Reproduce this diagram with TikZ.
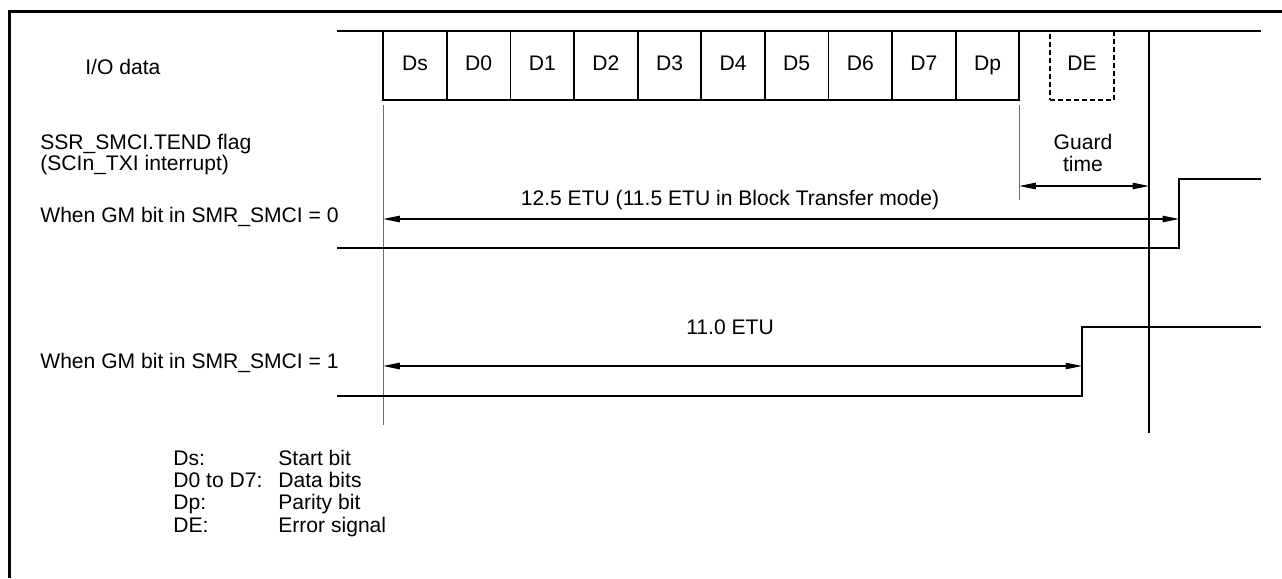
\documentclass[tikz,border=0pt]{standalone}
\usepackage{fontspec}
\setmainfont{Liberation Sans}
\usetikzlibrary{arrows.meta, positioning, calc}

\begin{document}
\begin{tikzpicture}[
  x=0.2mm, y=-0.2mm,
  font=\fontsize{12}{12}\selectfont,
  frame/.style={line width=2pt, black},
  sig/.style={line width=1.1pt, black},
  bitbox/.style={draw, line width=1.1pt, minimum width=1.272cm, minimum height=1.38cm, inner sep=0pt, outer sep=0pt, text height=0.72em, text depth=0.2em},
  errbox/.style={draw, line width=1.1pt, dash pattern=on 0.1cm off 0.06cm, minimum width=1.28cm, minimum height=1.38cm, inner sep=0pt, outer sep=0pt, text height=0.72em, text depth=0.2em},
  tick/.style={gray!85!black, line width=0.85pt},
  edge/.style={black, line width=0.85pt},
  dim/.style={line width=0.6pt, {Triangle[length=0.33cm, width=0.13cm]}-{Triangle[length=0.33cm, width=0.13cm]}},
  lbl/.style={anchor=base west, inner sep=0pt},
]
\useasboundingbox (0,0) rectangle (1282,578);
\draw[frame] (1282,11.5) -- (9.5,11.5) -- (9.5,578);

\node[lbl] (io) at (85,74) {I/O data};
\node[lbl, align=left, anchor=north west] (tend) at (40,134) {SSR\_SMCI.TEND flag\\(SCIn\_TXI interrupt)};
\node[lbl] (gm0) at (40,222) {When GM bit in SMR\_SMCI = 0};
\node[lbl] (gm1) at (40,368) {When GM bit in SMR\_SMCI = 1};

\foreach \t [count=\i] in {Ds,D0,D1,D2,D3,D4,D5,D6,D7,Dp}
  \node[bitbox] (b\i) at ({383.3+63.6*(\i-0.5)},65.5) {\t};
\node[errbox] (de) at (1082,65.5) {DE};
\coordinate (ioL) at (337,31);
\coordinate (ioR) at (1261,31);
\draw[sig] (ioL) -| (b1.south west);
\draw[sig] (b10.south east) |- (ioR);

\coordinate (gA) at (383.3,105);
\coordinate (gB) at (1019.3,105);
\coordinate (gC) at (1149,31);
\draw[tick] (gA) -- (383.3,425);
\draw[tick] (gB) -- (1019.3,200);
\draw[edge] (gC) -- (1149,433);

\coordinate (r0) at (1179,248);
\coordinate (r1) at (1082,396);
\draw[sig] (337,248) -- (r0) |- (1261,179);
\draw[sig] (337,396) -- (r1) |- (1261,327);

\node[align=center] (guard) at (1083,153) {Guard\\time};
\draw[dim] (gB |- 0,186) -- (gC |- 0,186);
\node (etu0) at (730,200) {12.5 ETU (11.5 ETU in Block Transfer mode)};
\draw[dim] (gA |- 0,219) -- (r0 |- 0,219);
\node (etu1) at (730,327) {11.0 ETU};
\draw[dim] (gA |- 0,366) -- (r1 |- 0,366);

\foreach \k/\v [count=\i] in {Ds:/Start bit, D0 to D7:/Data bits, Dp:/Parity bit, DE:/Error signal} {
  \node[lbl] (key\i) at (173,{465+22.4*(\i-1)}) {\k};
  \node[lbl] (val\i) at (278,{465+22.4*(\i-1)}) {\v};
}
\end{tikzpicture}
\end{document}
